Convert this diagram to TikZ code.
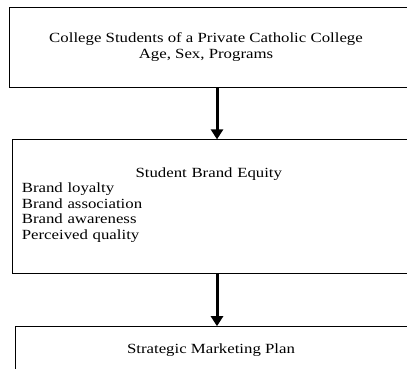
\documentclass[tikz,border=0pt]{standalone}
\usepackage{fontspec}
\setmainfont{Liberation Serif}[FakeStretch=1.2]
\usepackage{tikz}
\usetikzlibrary{positioning,arrows.meta}

\begin{document}
\begin{tikzpicture}[x=1pt, y=1pt, node distance=52pt,
        box/.style={rectangle, draw, line width=0.8pt, inner sep=0pt},
        txt/.style={inner sep=0pt, font=\fontsize{14pt}{15.5pt}\selectfont},
        flow/.style={line width=3pt, -{Triangle[width=12pt, length=10pt]}}]
        \path[use as bounding box, clip] (0,0) rectangle (407,-369);

        % Boxes
        \node[box, minimum width=416pt, minimum height=80pt] (students) at (217,-47) {};
        \node[box, minimum width=410pt, minimum height=134pt] (equity) [below=of students] {};
        \node[box, minimum width=404pt, minimum height=60pt] (plan) [below=of equity] {};

        % Texts
        \node[txt, align=center] (studentsText) at ([xshift=-11pt]students.center)
            {College Students of a Private Catholic College\\Age, Sex, Programs};
        \node[txt, text width=374pt, align=left, anchor=west] (equityText) at ([xshift=10pt,yshift=2pt]equity.west)
            {\makebox[374pt]{Student Brand Equity}\\Brand loyalty\\Brand association\\Brand awareness\\Perceived quality};
        \node[txt] (planText) at ([xshift=-6pt,yshift=-24pt]plan.north) {Strategic Marketing Plan};

        % Arrows
        \draw[flow] (students) -- (equity);
        \draw[flow] (equity) -- (plan);
    \end{tikzpicture}
\end{document}
